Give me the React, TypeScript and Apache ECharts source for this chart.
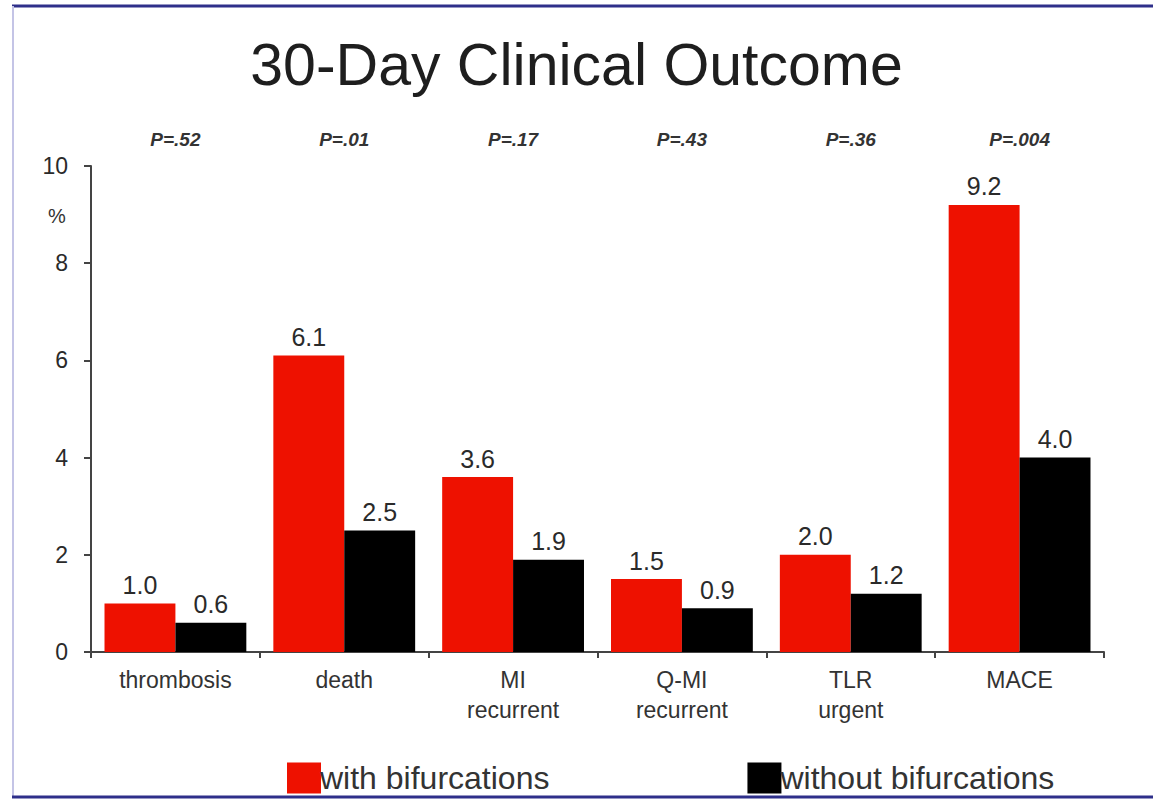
import React, { useEffect, useRef } from "react";
import * as echarts from "echarts";

const categories = ["thrombosis", "death", "MI\nrecurrent", "Q-MI\nrecurrent", "TLR\nurgent", "MACE"];
const pValues = ["P=.52", "P=.01", "P=.17", "P=.43", "P=.36", "P=.004"];
const withBif = [1.0, 6.1, 3.6, 1.5, 2.0, 9.2];
const withoutBif = [0.6, 2.5, 1.9, 0.9, 1.2, 4.0];
const yTicks = [0, 2, 4, 6, 8, 10];

const FONT = "'Liberation Sans', Arial, sans-serif";

export default function App() {
  const ref = useRef<HTMLDivElement>(null);
  useEffect(() => {
    if (!ref.current) return;
    const chart = echarts.init(ref.current, null, { renderer: "svg" });
    const valueLabel = {
      show: true,
      position: "top",
      distance: 6,
      fontFamily: FONT,
      fontSize: 25,
      color: "#2a2a2a",
      formatter: (p: any) => Number(p.value).toFixed(1),
    };
    chart.setOption({
      animation: false,
      backgroundColor: "#ffffff",
      title: {
        text: "30-Day Clinical Outcome",
        left: "center",
        top: 30,
        textStyle: { fontFamily: FONT, fontSize: 59, fontWeight: "normal", color: "#1e1e1e" },
      },
      legend: {
        left: 282,
        top: 757,
        itemWidth: 34,
        itemHeight: 31,
        itemGap: 198,
        icon: "rect",
        itemStyle: { borderWidth: 0 },
        textStyle: { fontFamily: FONT, fontSize: 32, color: "#333", padding: [0, 0, 0, -6] },
        data: ["with bifurcations", "without bifurcations"],
      },
      grid: { left: 91, right: 49, top: 166, bottom: 149 },
      xAxis: [
        {
          type: "category",
          data: categories,
          axisLine: { lineStyle: { color: "#444", width: 2 } },
          axisTick: { show: true, length: 6, lineStyle: { color: "#444", width: 2 } },
          axisLabel: { fontFamily: FONT, fontSize: 23, color: "#333", margin: 13, lineHeight: 30 },
        },
        {
          type: "category",
          position: "top",
          data: pValues,
          axisLine: { show: false },
          axisTick: { show: false },
          axisLabel: {
            fontFamily: FONT,
            fontSize: 19,
            fontStyle: "italic",
            fontWeight: "bold",
            color: "#333",
            margin: 17,
          },
        },
      ],
      yAxis: {
        type: "value",
        min: 0,
        max: 10,
        interval: 2,
        axisLine: { show: true, lineStyle: { color: "#444", width: 2 } },
        axisTick: { show: true, length: 7, lineStyle: { color: "#444", width: 2 } },
        splitLine: { show: false },
        axisLabel: {
          fontFamily: FONT,
          fontSize: 23,
          color: "#2a2a2a",
          margin: 23,
          formatter: (v: number) => (yTicks.includes(v) ? String(v) : ""),
        },
      },
      series: [
        {
          name: "with bifurcations",
          type: "bar",
          data: withBif,
          barGap: "0%",
          barCategoryGap: "16%",
          itemStyle: { color: "#ee1100" },
          label: valueLabel,
        },
        {
          name: "without bifurcations",
          type: "bar",
          data: withoutBif,
          barGap: "0%",
          barCategoryGap: "16%",
          itemStyle: { color: "#000000" },
          label: valueLabel,
        },
      ],
      graphic: [
        { type: "line", shape: { x1: 12, y1: 6, x2: 1153, y2: 6 }, style: { stroke: "#2e2f8a", lineWidth: 3 } },
        { type: "line", shape: { x1: 13, y1: 6, x2: 13, y2: 797 }, style: { stroke: "#c4c4e6", lineWidth: 2 } },
        { type: "line", shape: { x1: 12, y1: 797, x2: 1153, y2: 797 }, style: { stroke: "#2e2f8a", lineWidth: 3 } },
        {
          type: "text",
          left: 48,
          top: 206,
          style: { text: "%", fontFamily: FONT, fontSize: 20, fill: "#333" },
        },
      ],
    });
    return () => chart.dispose();
  }, []);
  return <div ref={ref} style={{ position: "fixed", left: 0, top: 0, width: 1153, height: 801 }} />;
}
